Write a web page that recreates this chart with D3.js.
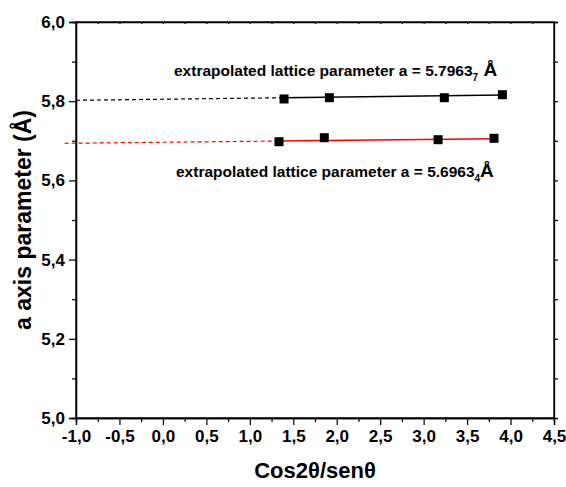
<!DOCTYPE html>
<html>
<head>
<meta charset="utf-8">
<script src="https://cdnjs.cloudflare.com/ajax/libs/d3/7.8.5/d3.min.js"></script>
<style>
  body { margin: 0; background: #fff; }
  text { font-family: "Liberation Sans", Arial, sans-serif; font-weight: bold; }
</style>
</head>
<body>
<div id="chart"></div>
<script>
// data
var blackX = [1.394, 1.915, 3.238, 3.906];
var blackY = [5.8056, 5.8088, 5.8088, 5.8164];
var redX = [1.336, 1.857, 3.166, 3.810];
var redY = [5.6977, 5.7078, 5.7028, 5.7063];
// linear fits [intercept, slope] and extrapolation start
var blackFit = [5.8050, 0.00272];
var redFit = [5.6963, 0.00233];
var blackStart = -1.0, redStart = -1.13;
var xTicks = [-1.0, -0.5, 0.0, 0.5, 1.0, 1.5, 2.0, 2.5, 3.0, 3.5, 4.0, 4.5];
var yTicks = [5.0, 5.2, 5.4, 5.6, 5.8, 6.0];
var labelBlack = ["extrapolated lattice parameter a = 5.7963", "7", " Å"];
var labelRed = ["extrapolated lattice parameter a = 5.6963", "4", "Å"];

var width = 566, height = 487,
    margin = {top: 22, right: 12, bottom: 69, left: 76};

var svg = d3.select("#chart").append("svg")
    .attr("width", width)
    .attr("height", height);

var x = d3.scaleLinear().domain([-1, 4.5]).range([margin.left, width - margin.right]);
var y = d3.scaleLinear().domain([5.0, 6.0]).range([height - margin.bottom, margin.top]);

var fmt = function(d){ return d3.format(".1f")(d).replace(".", ",").replace("−", "-"); };

// frame
svg.append("rect")
    .attr("x", x(-1)).attr("y", y(6))
    .attr("width", x(4.5) - x(-1)).attr("height", y(5) - y(6))
    .attr("fill", "none").attr("stroke", "#000").attr("stroke-width", 1.3);

// bottom axis
svg.append("g")
    .attr("transform", "translate(0," + y(5) + ")")
    .call(d3.axisBottom(x).tickValues(xTicks).tickFormat(fmt).tickSize(7).tickPadding(5));
svg.append("g")
    .attr("transform", "translate(0," + y(5) + ")")
    .call(d3.axisBottom(x).tickValues(d3.range(-0.75, 4.5, 0.5)).tickFormat("").tickSize(4));

// left axis
svg.append("g")
    .attr("transform", "translate(" + x(-1) + ",0)")
    .call(d3.axisLeft(y).tickValues(yTicks).tickFormat(fmt).tickSize(7).tickPadding(4));
svg.append("g")
    .attr("transform", "translate(" + x(-1) + ",0)")
    .call(d3.axisLeft(y).tickValues([5.1, 5.3, 5.5, 5.7, 5.9]).tickFormat("").tickSize(4));

// right and top axes (mirrored ticks)
svg.append("g")
    .attr("transform", "translate(" + x(4.5) + ",0)")
    .call(d3.axisRight(y).tickValues(d3.range(5.1, 6.0, 0.1)).tickFormat("").tickSize(4));
svg.append("g")
    .attr("transform", "translate(0," + y(6) + ")")
    .call(d3.axisBottom(x).tickValues(d3.range(-0.75, 4.5, 0.25)).tickFormat("").tickSize(2));

svg.selectAll(".domain").attr("stroke", "#000").attr("stroke-width", 1.3);
svg.selectAll(".tick line").attr("stroke", "#000").attr("stroke-width", 1.2);
svg.selectAll(".tick text").attr("font-size", "17px").attr("fill", "#000")
    .attr("font-family", "Liberation Sans, Arial, sans-serif").attr("font-weight", "bold");

// fit lines
function drawFit(fit, start, xs, color){
    var f = function(v){ return fit[0] + fit[1] * v; };
    var lo = d3.min(xs), hi = d3.max(xs);
    svg.append("line")
        .attr("x1", x(start)).attr("y1", y(f(start)))
        .attr("x2", x(lo)).attr("y2", y(f(lo)))
        .attr("stroke", color).attr("stroke-width", 1.2)
        .attr("stroke-dasharray", "4,3");
    svg.append("line")
        .attr("x1", x(lo)).attr("y1", y(f(lo)))
        .attr("x2", x(hi)).attr("y2", y(f(hi)))
        .attr("stroke", color).attr("stroke-width", 1.4);
}
drawFit(blackFit, blackStart, blackX, "#000");
drawFit(redFit, redStart, redX, "#f00");

// markers
function drawPoints(xs, ys){
    svg.append("g").selectAll("rect")
        .data(xs)
      .enter()
        .append("rect")
        .attr("x", function(d){ return x(d) - 4.5; })
        .attr("y", function(d, i){ return y(ys[i]) - 4.5; })
        .attr("width", 9).attr("height", 9)
        .attr("fill", "#000");
}
drawPoints(blackX, blackY);
drawPoints(redX, redY);

// annotations
function note(parts, px, py){
    var t = svg.append("text")
        .attr("x", px).attr("y", py)
        .attr("font-size", "15.5px").attr("fill", "#000");
    t.append("tspan").text(parts[0]);
    t.append("tspan").attr("dy", 5).attr("font-size", "10px").text(parts[1]);
    t.append("tspan").attr("dy", -5).attr("font-size", "19px").text(parts[2]);
}
note(labelBlack, 174, 76);
note(labelRed, 176, 177);

// axis titles
svg.append("text")
    .attr("x", (x(-1) + x(4.5)) / 2)
    .attr("y", 478)
    .attr("text-anchor", "middle")
    .attr("font-size", "22px")
    .text("Cos2θ/senθ");

svg.append("text")
    .attr("transform", "translate(31," + 220 + ") rotate(-90)")
    .attr("text-anchor", "middle")
    .attr("font-size", "23px")
    .text("a axis parameter (Å)");
</script>
</body>
</html>
